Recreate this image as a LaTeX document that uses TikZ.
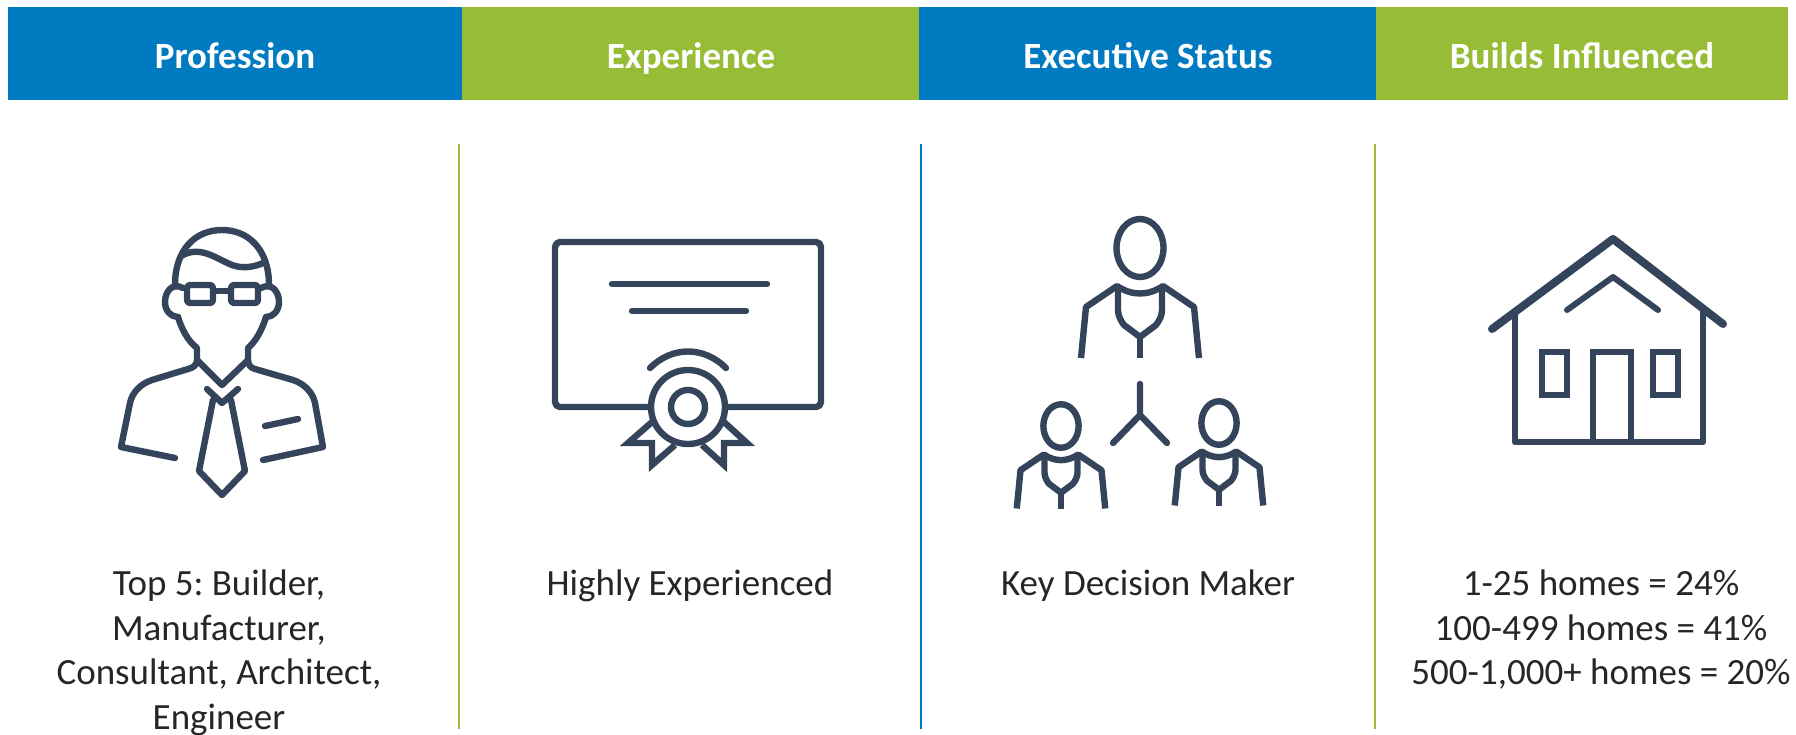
\documentclass[tikz,border=0pt]{standalone}
\usepackage{fontspec}
\setmainfont{Carlito}
\frenchspacing
\definecolor{hblue}{HTML}{007BC1}
\definecolor{hgreen}{HTML}{97BC35}
\definecolor{ink}{HTML}{34445A}
\tikzset{
  header/.style={font=\fontsize{37}{44}\selectfont\bfseries,text=white,anchor=base},
  body/.style={font=\fontsize{37}{44.6}\selectfont,text=black!85,align=center,anchor=north},
  rule/.style={line width=2.6pt},
  icon/.style={draw=ink,line width=6.4pt,line cap=round,line join=round,fill=none},
  flat/.style={draw=ink,line width=6.4pt,line cap=butt,line join=miter,fill=none},
  person/.pic={
    \draw[icon] (0,0) ellipse[x radius=23.5,y radius=29];
    \draw[flat,line join=round] (-59,110) -- (-54,59) -- (-23,38) .. controls (-8,48) and (8,48) .. (23,38) -- (54,59) -- (59,110);
    \draw[flat,line join=round] (-22,40) -- (-22,62) .. controls (-22,68) and (-19,73) .. (-16,77) -- (0,89) -- (16,77) .. controls (19,73) and (22,68) .. (22,62) -- (22,40);
    \draw[flat] (0,89) -- (0,110);
  }
}
\begin{document}
\begin{tikzpicture}[x=1pt,y=-1pt]
\useasboundingbox (0,0) rectangle (1796,734);
% header bands
\fill[hblue]  (7.5,6.5) rectangle (462,99.5);
\fill[hgreen] (462,6.5) rectangle (919,99.5);
\fill[hblue]  (919,6.5) rectangle (1376,99.5);
\fill[hgreen] (1376,6.5) rectangle (1788,99.5);
\node[header] (h1) at (235,68) {Profession};
\node[header] (h2) at (691,68) {Experience};
\node[header] (h3) at (1148,68) {Executive Status};
\node[header] (h4) at (1582,68) {Builds Influenced};
% rules
\draw[rule,hgreen] (459,144) -- (459,729);
\draw[rule,hblue]  (921,144) -- (921,729);
\draw[rule,hgreen] (1375,144) -- (1375,729);
% man
\draw[icon] (175,285) .. controls (175,250) and (195,230) .. (222,230) .. controls (249,230) and (269,250) .. (269,285);
\draw[icon] (181,256) .. controls (200,245) and (215,258) .. (232,265) .. controls (243,269) and (254,267) .. (263,263);
\draw[icon,rounded corners=3pt] (187,285) rectangle (213,303);
\draw[icon,rounded corners=3pt] (231,285) rectangle (258,303);
\draw[icon] (213,291) -- (231,291);
\draw[icon] (183,288) .. controls (172,282) and (165,292) .. (165,302) .. controls (165,311) and (171,317) .. (178,317);
\draw[icon] (261,288) .. controls (272,282) and (279,292) .. (279,302) .. controls (279,311) and (273,317) .. (266,317);
\draw[icon] (178,317) .. controls (182,330) and (188,341) .. (197,348) -- (197,360);
\draw[icon] (266,317) .. controls (262,330) and (256,341) .. (248,348) -- (248,360);
\draw[icon] (197,360) .. controls (197,365) and (193,368) .. (188,369) -- (152,380) .. controls (140,384) and (132,393) .. (130,403) -- (121,447) -- (175,458);
\draw[icon] (248,360) .. controls (248,365) and (251,368) .. (255,369) -- (293,380) .. controls (305,384) and (313,393) .. (315,403) -- (323,447) -- (263,460);
\draw[icon] (197,360) -- (222,385) -- (248,360);
\draw[icon] (207,389) -- (222,403) -- (238,389);
\draw[icon] (213,400) -- (199,471) -- (222,495) -- (245,471) -- (231,400);
\draw[icon] (265,426) -- (298,419);
% certificate
\draw[icon,rounded corners=5pt] (651,407) -- (555,407) -- (555,242) -- (821,242) -- (821,407) -- (725,407);
\draw[icon] (612,284) -- (767,284);
\draw[icon] (632,311) -- (746,311);
\draw[icon] (650,368) .. controls (672,346) and (704,346) .. (726,368);
\draw[icon] (688,407) circle[radius=37];
\draw[icon] (688,407) circle[radius=17];
\draw[flat] (652,422) -- (628,443) -- (652,443) -- (652,465) -- (675,445);
\draw[flat] (724,422) -- (747,443) -- (724,443) -- (724,465) -- (702,445);
% people
\pic at (1140,248) {person};
\pic[scale=.75] at (1061,426) {person};
\pic[scale=.75] at (1219,423) {person};
\draw[icon] (1140,384) -- (1140,415) -- (1113,443);
\draw[icon] (1140,415) -- (1167,443);
% house
\draw[icon,line width=8pt] (1492,329) -- (1613,239) -- (1723,324);
\draw[icon,line width=6pt] (1567,310) -- (1613,277) -- (1658,310);
\draw[icon,line width=6.5pt] (1515,313) -- (1515,442) -- (1703,442) -- (1703,313);
\draw[flat,line width=6.5pt] (1593,442) -- (1593,352) -- (1631,352) -- (1631,442);
\draw[flat,line width=6.5pt] (1542,352) rectangle (1567,395);
\draw[flat,line width=6.5pt] (1653,352) rectangle (1678,395);
% captions
\node[body] (t1) at (219,566.5) {Top 5: Builder,\\Manufacturer,\\Consultant, Architect,\\Engineer};
\node[body] (t2) at (690,566.5) {Highly Experienced};
\node[body] (t3) at (1148,566.5) {Key Decision Maker};
\node[body] (t4) at (1601,566.5) {1-25 homes = 24\%\\100-499 homes = 41\%\\500-1,000+ homes = 20\%};
\end{tikzpicture}
\end{document}
